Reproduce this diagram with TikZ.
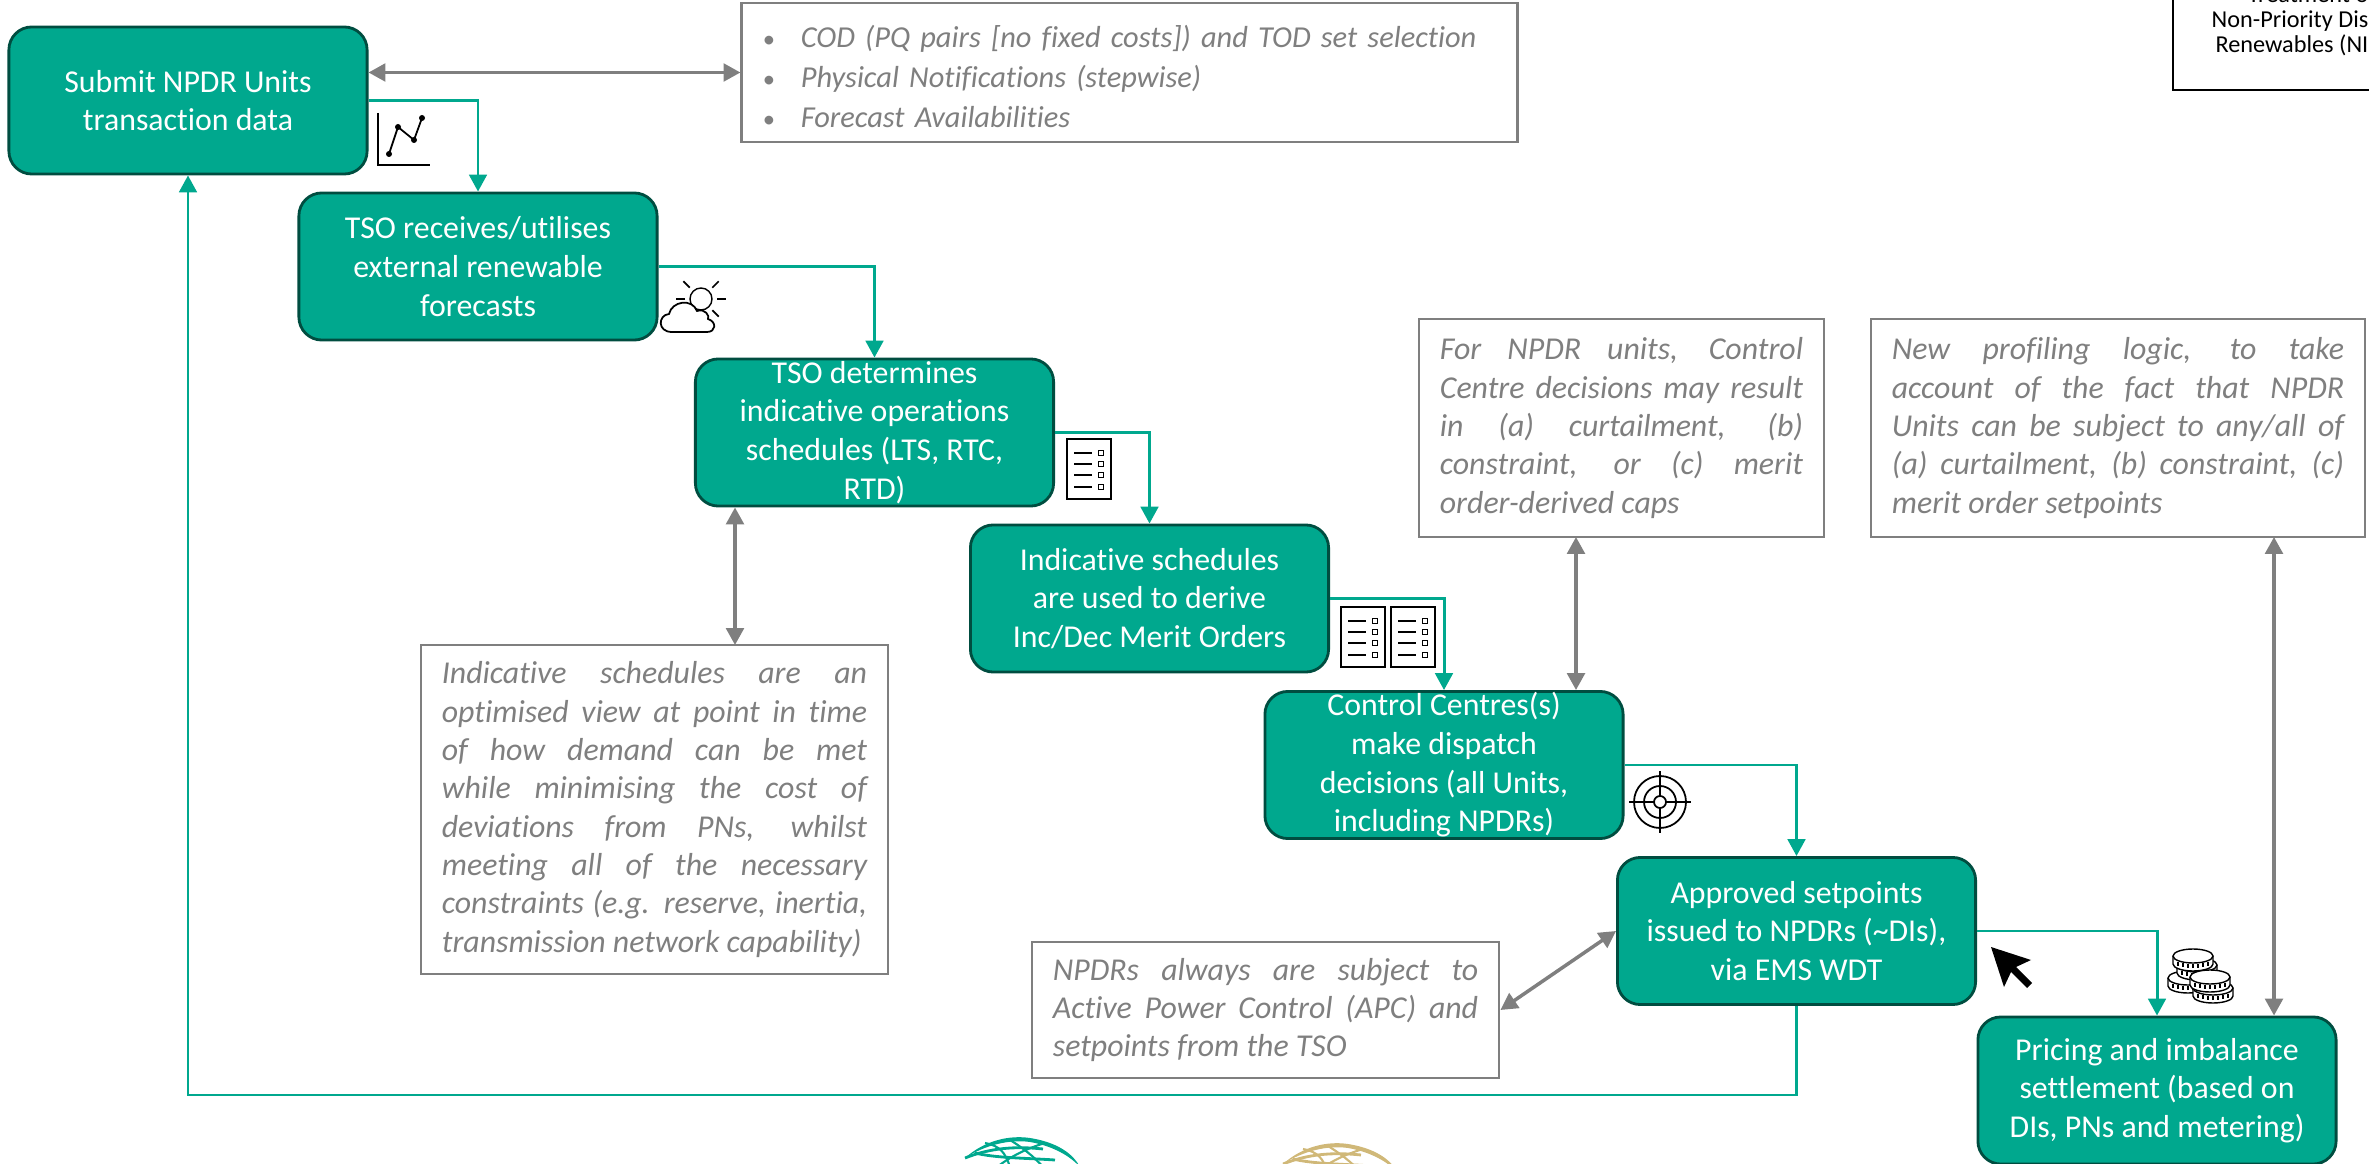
\documentclass[tikz,border=0pt]{standalone}
\usepackage{xcolor}
\usepackage{fontspec}
\setmainfont[Ligatures=CommonOff]{Carlito}
\usepackage{tikz}
\usetikzlibrary{calc}
\usetikzlibrary{arrows.meta}
\definecolor{npdr-green}{RGB}{0, 168, 142}
\definecolor{npdr-dark}{RGB}{0, 77, 64}
\definecolor{npdr-grey}{RGB}{127, 127, 127}
\definecolor{npdr-gold}{RGB}{208, 184, 120}
\newcommand{\bulletline}[1]{\makebox[10.8pt][l]{\fontsize{7}{7}\selectfont\upshape\textbullet}#1}
\tikzset{
  procbox/.style={draw=npdr-dark, fill=npdr-green, line width=0.8pt, rounded corners=6.5pt,
    minimum width=3.58cm, minimum height=1.47cm, inner sep=0pt, text=white, align=center,
    font=\fontsize{9.05}{11}\selectfont},
  notebox/.style={draw=npdr-grey, fill=white, line width=0.7pt, inner xsep=6pt, inner ysep=0pt,
    text=npdr-grey, align=justify, font=\fontsize{9.05}{10.9}\selectfont\itshape},
  flow/.style={npdr-green, line width=0.85pt, -{Triangle[length=4.8pt,width=5pt]}},
  link/.style={npdr-grey, line width=1pt, {Triangle[length=4.8pt,width=5pt]}-{Triangle[length=4.8pt,width=5pt]}},
  icon/.style={black, line width=0.4pt},
  checklist/.pic={
    \draw[icon, fill=white, line width=0.5pt] (0,0) rectangle (44,60);
    \foreach \row in {14,25,36,48} {
      \draw[icon, line width=0.55pt] (7,\row) -- (25,\row);
      \draw[icon, line width=0.5pt] (31.5,\row-2.5) rectangle (36.5,\row+2.5);
    }
  },
  coin/.pic={
    \draw[icon, fill=white] (-20,0) -- (-20,8) arc[start angle=180, end angle=0, x radius=20, y radius=7] -- (20,0);
    \foreach \tick in {-15,-10,-5,0,5,10,15} {
      \draw[icon] (\tick,{6+7*sqrt(1-(\tick/20)^2)-1}) -- (\tick,{7*sqrt(1-(\tick/20)^2)+1});
    }
    \draw[icon, fill=white] (0,0) ellipse[x radius=20, y radius=7];
  },
  globe/.pic={
    \fill (-50,21) .. controls (-30,3) and (-5,-2) .. (15,1) .. controls (40,5) and (57,15) .. (65,30)
      .. controls (55,19) and (38,9) .. (15,5) .. controls (-5,2) and (-30,8) .. cycle;
    \draw[line width=0.8pt] (-50,21) .. controls (-25,11) and (0,9) .. (28,12);
    \draw[line width=0.8pt] (-40,16) .. controls (-20,21) and (10,21) .. (40,23);
    \draw[line width=0.6pt] (-30,6) .. controls (-15,9) and (-10,15) .. (-5,30);
    \draw[line width=0.6pt] (30,6) .. controls (10,12) and (-5,20) .. (-18,30);
    \draw[line width=0.6pt] (-5,3) .. controls (5,9) and (20,20) .. (28,30);
  },
}
\begin{document}
\begin{tikzpicture}[x=0.01cm, y=-0.01cm]
  \path[use as bounding box, clip] (0,0) rectangle (2369,1164);

  \coordinate (link-schedules) at (735,645);
  \coordinate (link-decisions) at (1576,537);
  \coordinate (link-profile) at (2274,537);

  \draw[black, line width=0.8pt] (2173,-10) -- (2173,90) -- (2400,90);
  \node[anchor=east, inner sep=0pt, align=right, font=\fontsize{6.9}{7.1}\selectfont] (title) at (2369,21)
    {Treatment o\\Non-Priority Dis\\Renewables (NI};

  \node[procbox] (submit) at (188,100.5) {Submit NPDR Units\\transaction data};
  \node[procbox] (forecast) at (478,266.5) {TSO receives/utilises\\external renewable\\forecasts};
  \node[procbox] (schedules) at (874.5,432.5) {TSO determines\\indicative operations\\schedules (LTS, RTC,\\RTD)};
  \node[procbox] (merit) at (1149.5,598.5) {Indicative schedules\\are used to derive\\Inc/Dec Merit Orders};
  \node[procbox] (control) at (1444,765) {Control Centres(s)\\make dispatch\\decisions (all Units,\\including NPDRs)};
  \node[procbox] (setpoints) at (1796.5,931) {Approved setpoints\\issued to NPDRs (\textasciitilde DIs),\\via EMS WDT};
  \node[procbox] (pricing) at (2157,1090.5) {Pricing and imbalance\\settlement (based on\\DIs, PNs and metering)};

  \node[notebox, text width=7.33cm, minimum height=1.39cm, align=left, font=\fontsize{8.65}{11.3}\selectfont\itshape] (note-data) at (1129.5,72.5)
    {\bulletline{\rule{0pt}{8.6pt}COD (PQ pairs [no fixed costs]) and TOD set selection}\\
     \bulletline{Physical Notifications (stepwise)}\\
     \bulletline{Forecast Availabilities}};
  \node[notebox, text width=4.25cm, minimum height=3.29cm] (note-schedules) at (654.5,809.5)
    {Indicative schedules are an\linebreak optimised view at point in time\linebreak of how demand can be met\linebreak
     while minimising the cost of\linebreak deviations from PNs, whilst\linebreak meeting all of the necessary\linebreak
     constraints (e.g. reserve, inertia,\linebreak transmission network capability)};
  \node[notebox, text width=3.63cm, minimum height=2.18cm] (note-decisions) at (1621.5,428)
    {For NPDR units, Control\linebreak Centre decisions may result\linebreak in (a) curtailment, (b)\linebreak
     constraint, or (c) merit\linebreak order-derived caps};
  \node[notebox, text width=4.52cm, minimum height=2.18cm] (note-profile) at (2118,428)
    {New profiling logic, to take\linebreak account of the fact that NPDR\linebreak Units can be subject to any/all of\linebreak
     (a) curtailment, (b) constraint, (c)\linebreak merit order setpoints};
  \node[notebox, text width=4.25cm, minimum height=1.36cm] (note-apc) at (1265.5,1010)
    {NPDRs always are subject to\linebreak Active Power Control (APC) and\linebreak setpoints from the TSO};

  \draw[link] (submit.east |- note-data.west) -- (note-data.west);
  \draw[link] (link-schedules |- schedules.south) -- (link-schedules);
  \draw[link] (link-decisions) -- (link-decisions |- control.north);
  \draw[link] (link-profile) -- (link-profile |- pricing.north);
  \draw[link] (note-apc.east) -- (setpoints.west);

  \draw[flow] (submit.east) -| (forecast.north);
  \draw[flow] (forecast.east) -| (schedules.north);
  \draw[flow] (schedules.east) -| (merit.north);
  \draw[flow] (merit.east) -| (control.north);
  \draw[flow] (control.east) -| (setpoints.north);
  \draw[flow] (setpoints.east) -| (pricing.north);
  \coordinate (back) at (0,1095);
  \draw[flow] (setpoints.south) -- (setpoints.south |- back) -| (submit.south);

  % icons
  \draw[icon] (378,113) -- (378,165) -- (430,165);
  \draw[icon, line width=0.5pt] (389,154) -- (398,127) -- (414,140) -- (422,118);
  \foreach \px/\py in {389/154, 398/127, 414/140, 422/118} {
    \fill (\px,\py) circle[radius=3];
  }

  \draw[icon] (701,299) circle[radius=11];
  \foreach \ang in {0,45,90,135,180,225,-45} {
    \draw[icon, line width=0.5pt] ($(701,299)+(\ang:16)$) -- ($(701,299)+(\ang:25)$);
  }
  \draw[icon, fill=white, line width=0.5pt] (672,332) .. controls (657,332) and (658,315) .. (669,314)
    .. controls (672,301) and (692,298) .. (697,311) .. controls (705,308) and (710,316) .. (708,319)
    .. controls (717,322) and (716,332) .. (707,332) -- cycle;

  \pic at (1067,439) {checklist};
  \pic at (1341,607) {checklist};
  \pic at (1391,607) {checklist};

  \foreach \rad in {6,16,26} {
    \draw[icon, line width=0.5pt] (1660,802) circle[radius=\rad];
  }
  \foreach \ang in {0,90,180,270} {
    \draw[icon, line width=0.5pt] ($(1660,802)+(\ang:6)$) -- ($(1660,802)+(\ang:31)$);
  }

  \fill[black] (1991,947) -- (2031,960) -- (2016,967) -- (2032,983) -- (2027,988) -- (2011,972) -- (2004,987) -- cycle;

  \pic at (2188,978) {coin};
  \pic at (2197,965) {coin};
  \pic at (2193,956) {coin};
  \pic at (2213,988) {coin};
  \pic at (2210,977) {coin};

  \pic[npdr-green] at (1015,1137) {globe};
  \pic[npdr-gold] at (1333,1143) {globe};
\end{tikzpicture}
\end{document}
